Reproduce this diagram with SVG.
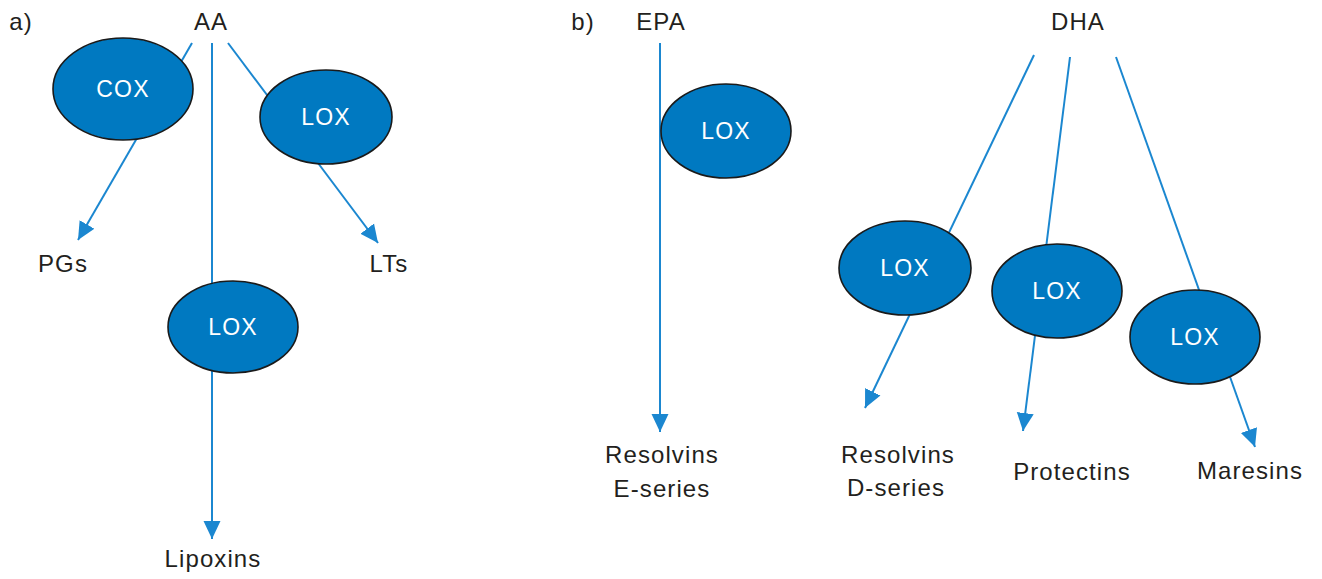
<svg xmlns="http://www.w3.org/2000/svg" width="1322" height="579" viewBox="0 0 1322 579">
<style>
.lbl{font-family:"Liberation Sans",Arial,sans-serif;font-size:24px;fill:#231f20;letter-spacing:1.1px;text-anchor:middle}
.enz{font-family:"Liberation Sans",Arial,sans-serif;font-size:23px;fill:#ffffff;letter-spacing:1.2px;text-anchor:middle}
.node ellipse{fill:#0079c1;stroke:#1a1a1a;stroke-width:1.6}
.conn line{stroke:#1b87d0;stroke-width:2;fill:none}
.arr line{marker-end:url(#ah)}
</style>
<defs>
<marker id="ah" markerUnits="userSpaceOnUse" markerWidth="19" markerHeight="19" viewBox="0 0 19 19" refX="18" refY="9.5" orient="auto">
<path d="M0,1 L18,9.5 L0,18 z" fill="#1b87d0"/>
</marker>
</defs>
<rect width="1322" height="579" fill="#ffffff"/>
<g id="connectors" class="conn">
<g class="arr">
<line x1="192" y1="43" x2="78" y2="240"/>
<line x1="228" y1="43" x2="378" y2="243"/>
<line x1="212" y1="43" x2="212" y2="539"/>
<line x1="660" y1="43" x2="660" y2="432"/>
<line x1="1034" y1="55" x2="865" y2="408"/>
<line x1="1070" y1="57" x2="1023" y2="431"/>
<line x1="1116" y1="57" x2="1255" y2="447"/>
</g>
</g>
<g id="labels">
<text class="lbl" x="21" y="30">a)</text>
<text class="lbl" x="211" y="30">AA</text>
<text class="lbl" x="63" y="272">PGs</text>
<text class="lbl" x="389" y="272">LTs</text>
<text class="lbl" x="213" y="567">Lipoxins</text>
<text class="lbl" x="583" y="30">b)</text>
<text class="lbl" x="661" y="30">EPA</text>
<text class="lbl" x="662" y="463">Resolvins</text>
<text class="lbl" x="662" y="497">E-series</text>
<text class="lbl" x="1078" y="30">DHA</text>
<text class="lbl" x="898" y="463">Resolvins</text>
<text class="lbl" x="896" y="496">D-series</text>
<text class="lbl" x="1072" y="480">Protectins</text>
<text class="lbl" x="1250" y="479">Maresins</text>
</g>
<g id="cox" class="node"><ellipse cx="123" cy="89" rx="70" ry="51"/><text class="enz" x="123" y="97">COX</text></g>
<g id="lox-lt" class="node"><ellipse cx="326" cy="117" rx="66" ry="47"/><text class="enz" x="326" y="125">LOX</text></g>
<g id="lox-lx" class="node"><ellipse cx="233" cy="327" rx="65" ry="46"/><text class="enz" x="233" y="335">LOX</text></g>
<g id="lox-epa" class="node"><ellipse cx="726" cy="131" rx="65" ry="47"/><text class="enz" x="726" y="139">LOX</text></g>
<g id="lox-rvd" class="node"><ellipse cx="905" cy="268" rx="66" ry="47"/><text class="enz" x="905" y="276">LOX</text></g>
<g id="lox-pd" class="node"><ellipse cx="1057" cy="291" rx="65" ry="47"/><text class="enz" x="1057" y="299">LOX</text></g>
<g id="lox-mar" class="node"><ellipse cx="1195" cy="337" rx="65" ry="47"/><text class="enz" x="1195" y="345">LOX</text></g>
</svg>
